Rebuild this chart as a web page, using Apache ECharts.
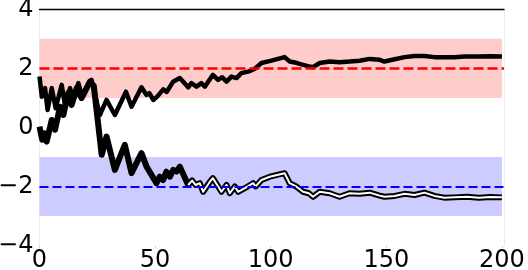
<!DOCTYPE html>
<html>
<head>
<meta charset="utf-8">
<script src="https://cdn.jsdelivr.net/npm/echarts@6/dist/echarts.min.js"></script>
<style>html,body{margin:0;padding:0;background:#fff;}#c{width:528px;height:270px;}</style>
</head>
<body>
<div id="c"></div>
<script>
// ---- data ----
const xTicks = [0, 50, 100, 150, 200];
const yTicks = [-4, -2, 0, 2, 4];
const targets = [2, -2];
const bandUpper = [1, 3];
const bandLower = [-3, -1];
const xRange = [0, 200];

const xA = [0,1,2.4,3.5,5.3,7,9.6,11,13.2,14.6,16.8,18.2,22.5,26.1,29,32.6,37.4,39.8,44.1,46.3,47.5,49.2,51,53.5,55,57.8,60.7,64.3,65.7,67.9,70,71.5,75,77.2,79,80.9,83,85.2,87.3,90.2,93,96,100.3,106,108.2,110.4,112.5,116.8,118.3,121.2,125.5,129.8,134.1,138.4,142.8,147.1,149.2,153.6,157.9,162.2,166.5,170.8,175.1,179.5,183.8,190,195,200];
const yA = [1.72,1.04,1.33,0.59,1.33,0.65,1.44,0.76,1.33,0.99,1.5,1.1,1.61,0.42,0.93,0.42,1.21,0.7,1.36,1.1,1.16,0.93,1.05,1.29,1.2,1.55,1.67,1.36,1.5,1.38,1.5,1.38,1.78,1.61,1.7,1.55,1.72,1.67,1.84,1.89,1.98,2.18,2.26,2.38,2.23,2.2,2.15,2.06,2.04,2.18,2.23,2.21,2.23,2.26,2.32,2.29,2.23,2.31,2.38,2.42,2.42,2.38,2.38,2.38,2.4,2.4,2.41,2.4];

const xB = [0,1.2,2.2,3.1,5.3,6.7,8.9,10.3,12.4,13.9,16.1,18.2,21.8,23.5,26.9,29,32.6,36.9,39.8,44.1,46.3,50.6,52,53.5,54.9,56.4,57.8,59.3,60.7,64.3,66,67.5,69.3,70.8,73.7,75,78.7,80.9,82.3,84.5,85.9,88.8,92.4,93.5,96,99.6,106,108.2,111,114,116.5,118.3,121.2,125.5,129.8,134.1,138.4,142.8,147.1,149.2,153.6,157.9,162.2,166.5,170.8,175.1,179.5,185,190,195,200];
const yB = [0.03,-0.42,-0.2,-0.48,0.25,-0.08,0.7,0.42,1.16,0.76,1.33,0.99,1.55,1.4,-0.93,-0.31,-1.44,-0.59,-1.55,-0.87,-1.33,-1.89,-1.67,-1.78,-1.5,-1.67,-1.44,-1.5,-1.33,-1.95,-1.8,-1.95,-1.89,-2.18,-1.84,-1.72,-2.18,-1.95,-2.23,-2.0,-2.18,-2.06,-1.89,-2.0,-1.78,-1.67,-1.55,-1.89,-2.0,-2.18,-2.23,-2.35,-2.18,-2.23,-2.35,-2.23,-2.25,-2.21,-2.31,-2.35,-2.32,-2.25,-2.29,-2.21,-2.32,-2.38,-2.37,-2.35,-2.38,-2.36,-2.37];
const splitFromX = 62; // where lower trace shows as a double line

// ---- chart ----
const xMax = 200.9;
const FONT = 'DejaVu Sans';
const pairs = (xs, ys) => xs.map((x, i) => [x, ys[i]]);
const fmtY = v => (v < 0 ? '\u2212' + Math.abs(v) : String(v));

const chart = echarts.init(document.getElementById('c'), null, {renderer: 'canvas'});
chart.setOption({
  animation: false,
  backgroundColor: '#fff',
  grid: {left: 39.5, right: 24, top: 9.3, bottom: 24.5, containLabel: false, outerBoundsMode: 'none'},
  xAxis: [
    {type: 'value', min: xRange[0], max: xMax, position: 'bottom',
     axisLine: {show: false, onZero: false},
     axisTick: {show: true, customValues: xTicks, length: 3, inside: false, lineStyle: {color: '#d9d9d9'}},
     axisLabel: {customValues: xTicks, fontSize: 24, color: '#000', fontFamily: FONT, margin: 3},
     splitLine: {show: false}},
    {type: 'value', min: xRange[0], max: xMax, position: 'top',
     axisLine: {show: true, onZero: false, lineStyle: {color: '#000', width: 1.3}},
     axisTick: {show: false}, axisLabel: {show: false}, splitLine: {show: false}}
  ],
  yAxis: [
    {type: 'value', min: yTicks[0], max: yTicks[yTicks.length - 1], interval: 2, position: 'left',
     axisLine: {show: true, onZero: false, lineStyle: {color: '#ebebeb', width: 1}},
     axisTick: {show: false},
     axisLabel: {formatter: fmtY, fontSize: 24, color: '#000', fontFamily: FONT, margin: 6},
     splitLine: {show: false}},
    {type: 'value', min: yTicks[0], max: yTicks[yTicks.length - 1], interval: 2, position: 'right',
     axisLine: {show: true, onZero: false, lineStyle: {color: '#ebebeb', width: 1}},
     axisTick: {show: false}, axisLabel: {show: false}, splitLine: {show: false}}
  ],
  series: [
    {type: 'line', data: [], z: 1, silent: true,
     markArea: {silent: true, data: [
       [{xAxis: xRange[0], yAxis: bandUpper[0], itemStyle: {color: '#ffcccc', opacity: 1}}, {xAxis: xRange[1], yAxis: bandUpper[1]}],
       [{xAxis: xRange[0], yAxis: bandLower[0], itemStyle: {color: '#ccccff', opacity: 1}}, {xAxis: xRange[1], yAxis: bandLower[1]}]
     ]}},
    {type: 'line', data: pairs(xA, yA), z: 3, symbol: 'none', showSymbol: false,
     lineStyle: {color: '#000', width: 4.5, join: 'round'}},
    {type: 'line', data: pairs(xB, yB), z: 3, symbol: 'none', showSymbol: false,
     lineStyle: {color: '#000', width: 6, join: 'round'}},
    {type: 'line', data: pairs(xB, yB).filter(p => p[0] >= splitFromX), z: 4, symbol: 'none', showSymbol: false,
     lineStyle: {color: '#fff', width: 2, join: 'round'}},
    {type: 'line', data: [], z: 5, silent: true,
     markLine: {silent: true, symbol: ['none', 'none'], label: {show: false},
       data: [
         [{coord: [xRange[0], targets[0]], lineStyle: {color: '#ff0000', width: 2.5, type: [10, 4]}}, {coord: [xMax, targets[0]]}],
         [{coord: [xRange[0], targets[1]], lineStyle: {color: '#0000ff', width: 2, type: [9, 4]}}, {coord: [xMax, targets[1]]}]
       ]}}
  ]
});
</script>
</body>
</html>
